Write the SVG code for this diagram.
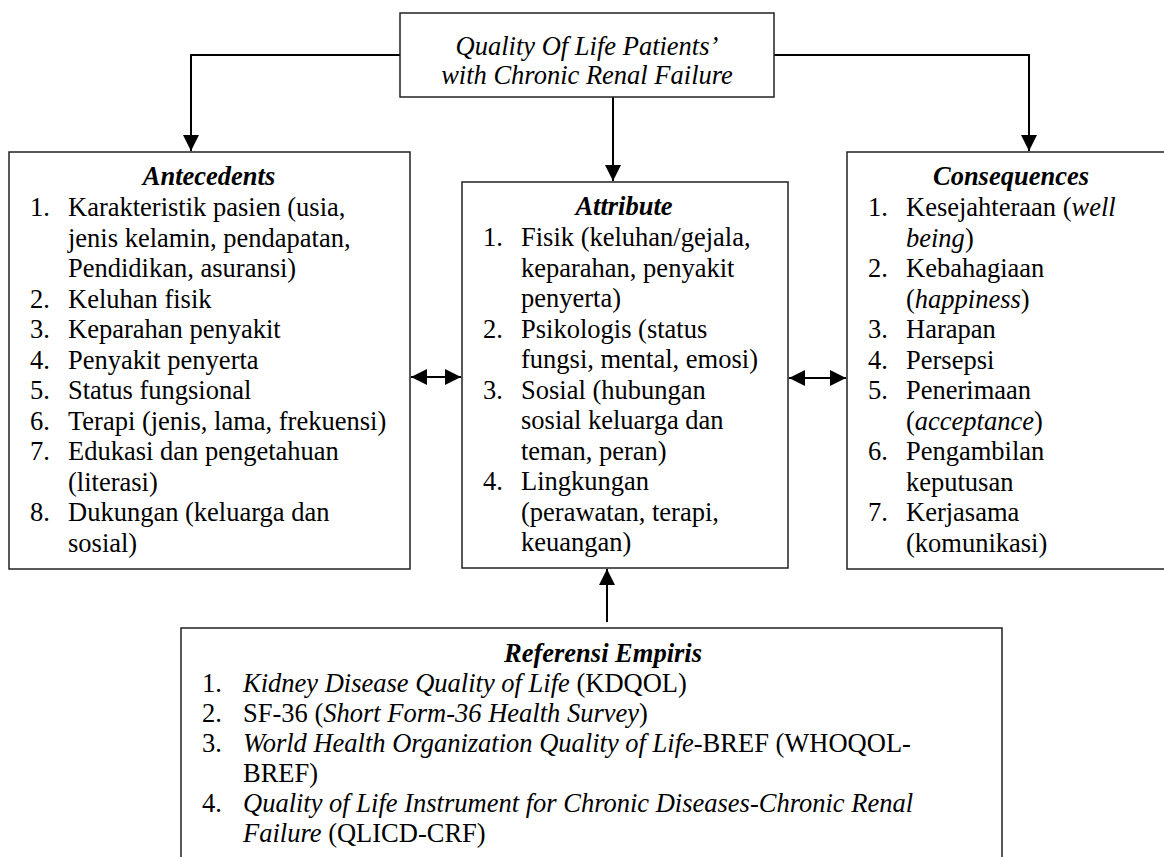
<svg xmlns="http://www.w3.org/2000/svg" width="1164" height="857" viewBox="0 0 1164 857" font-family="Liberation Serif, DejaVu Serif, serif">
<style>
.box{fill:#fff;stroke:#222;stroke-width:1.5}
.t{font-size:26.5px;fill:#000}
.i{font-style:italic}
.h{font-style:italic;font-weight:bold}
.c{text-anchor:middle}
.con{fill:none;stroke:#000;stroke-width:2}
</style>
<defs>
<marker id="ah" viewBox="0 0 16 16" refX="16" refY="8" markerWidth="16" markerHeight="16" markerUnits="userSpaceOnUse" orient="auto-start-reverse">
<path d="M0,0 L16,8 L0,16 Z" fill="#000"/>
</marker>
</defs>
<rect width="1164" height="857" fill="#fff"/>
<g id="connectors">
<polyline class="con" points="400,55 191,55 191,151" marker-end="url(#ah)"/>
<polyline class="con" points="774,55 1029,55 1029,151" marker-end="url(#ah)"/>
<line class="con" x1="613" y1="97" x2="613" y2="181" marker-end="url(#ah)"/>
<line class="con" x1="607" y1="622" x2="607" y2="569" marker-end="url(#ah)"/>
<line class="con" x1="411" y1="377" x2="461" y2="377" marker-start="url(#ah)" marker-end="url(#ah)"/>
<line class="con" x1="789" y1="378" x2="846" y2="378" marker-start="url(#ah)" marker-end="url(#ah)"/>
</g>
<g id="top" font-family="Liberation Serif">
<rect class="box" x="400" y="13" width="374" height="84"/>
<text class="t i c" x="587" y="55">Quality Of Life Patients’</text>
<text class="t i c" x="587" y="84">with Chronic Renal Failure</text>
</g>
<g id="antecedents" font-family="Liberation Serif">
<rect class="box" x="9" y="152" width="401" height="417"/>
<text class="t h c" x="209" y="185">Antecedents</text>
<text class="t" x="30" y="216">1.</text><text class="t" x="68" y="216">Karakteristik pasien (usia,</text>
<text class="t" x="68" y="246.5">jenis kelamin, pendapatan,</text>
<text class="t" x="68" y="277">Pendidikan, asuransi)</text>
<text class="t" x="30" y="307.5">2.</text><text class="t" x="68" y="307.5">Keluhan fisik</text>
<text class="t" x="30" y="338">3.</text><text class="t" x="68" y="338">Keparahan penyakit</text>
<text class="t" x="30" y="368.5">4.</text><text class="t" x="68" y="368.5">Penyakit penyerta</text>
<text class="t" x="30" y="399">5.</text><text class="t" x="68" y="399">Status fungsional</text>
<text class="t" x="30" y="429.5">6.</text><text class="t" x="68" y="429.5">Terapi (jenis, lama, frekuensi)</text>
<text class="t" x="30" y="460">7.</text><text class="t" x="68" y="460">Edukasi dan pengetahuan</text>
<text class="t" x="68" y="490.5">(literasi)</text>
<text class="t" x="30" y="521">8.</text><text class="t" x="68" y="521">Dukungan (keluarga dan</text>
<text class="t" x="68" y="551.5">sosial)</text>
</g>
<g id="attribute" font-family="Liberation Serif">
<rect class="box" x="462" y="182" width="326" height="386"/>
<text class="t h c" x="624" y="215">Attribute</text>
<text class="t" x="483" y="246">1.</text><text class="t" x="521" y="246">Fisik (keluhan/gejala,</text>
<text class="t" x="521" y="276.5">keparahan, penyakit</text>
<text class="t" x="521" y="307">penyerta)</text>
<text class="t" x="483" y="337.5">2.</text><text class="t" x="521" y="337.5">Psikologis (status</text>
<text class="t" x="521" y="368">fungsi, mental, emosi)</text>
<text class="t" x="483" y="398.5">3.</text><text class="t" x="521" y="398.5">Sosial (hubungan</text>
<text class="t" x="521" y="429">sosial keluarga dan</text>
<text class="t" x="521" y="459.5">teman, peran)</text>
<text class="t" x="483" y="490">4.</text><text class="t" x="521" y="490">Lingkungan</text>
<text class="t" x="521" y="520.5">(perawatan, terapi,</text>
<text class="t" x="521" y="551">keuangan)</text>
</g>
<g id="consequences" font-family="Liberation Serif">
<rect class="box" x="847" y="152" width="320" height="417"/>
<text class="t h c" x="1011" y="185">Consequences</text>
<text class="t" x="868" y="216">1.</text><text class="t" x="906" y="216">Kesejahteraan (<tspan class="i">well</tspan></text>
<text class="t" x="906" y="246.5"><tspan class="i">being</tspan>)</text>
<text class="t" x="868" y="277">2.</text><text class="t" x="906" y="277">Kebahagiaan</text>
<text class="t" x="906" y="307.5">(<tspan class="i">happiness</tspan>)</text>
<text class="t" x="868" y="338">3.</text><text class="t" x="906" y="338">Harapan</text>
<text class="t" x="868" y="368.5">4.</text><text class="t" x="906" y="368.5">Persepsi</text>
<text class="t" x="868" y="399">5.</text><text class="t" x="906" y="399">Penerimaan</text>
<text class="t" x="906" y="429.5">(<tspan class="i">acceptance</tspan>)</text>
<text class="t" x="868" y="460">6.</text><text class="t" x="906" y="460">Pengambilan</text>
<text class="t" x="906" y="490.5">keputusan</text>
<text class="t" x="868" y="521">7.</text><text class="t" x="906" y="521">Kerjasama</text>
<text class="t" x="906" y="551.5">(komunikasi)</text>
</g>
<g id="referensi" font-family="Liberation Serif">
<rect class="box" x="181" y="628" width="821" height="250"/>
<text class="t h c" x="603" y="662">Referensi Empiris</text>
<text class="t" x="202" y="692">1.</text><text class="t" x="243" y="692"><tspan class="i">Kidney Disease Quality of Life</tspan> (KDQOL)</text>
<text class="t" x="202" y="722">2.</text><text class="t" x="243" y="722">SF-36 (<tspan class="i">Short Form-36 Health Survey</tspan>)</text>
<text class="t" x="202" y="752">3.</text><text class="t" x="243" y="752"><tspan class="i">World Health Organization Quality of Life</tspan>-BREF (WHOQOL-</text>
<text class="t" x="243" y="782">BREF)</text>
<text class="t" x="202" y="812">4.</text><text class="t" x="243" y="812"><tspan class="i">Quality of Life Instrument for Chronic Diseases-Chronic Renal</tspan></text>
<text class="t" x="243" y="842"><tspan class="i">Failure</tspan> (QLICD-CRF)</text>
</g>
</svg>
